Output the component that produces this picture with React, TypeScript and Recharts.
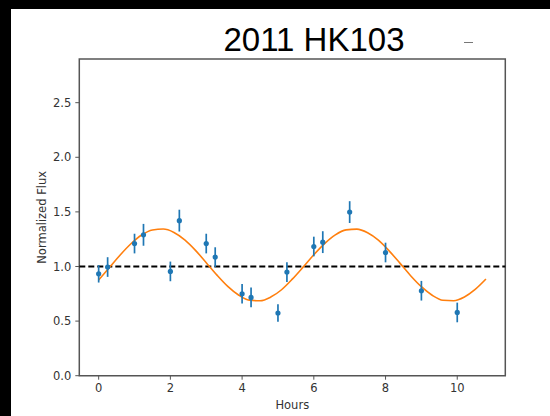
import {
  ComposedChart,
  XAxis,
  YAxis,
  Line,
  Scatter,
  ErrorBar,
  ReferenceLine,
  ReferenceArea,
} from "recharts";

// measured light curve
const hours = [0, 0.25, 1, 1.25, 2, 2.25, 3, 3.25, 4, 4.25, 5, 5.25, 6, 6.25, 7, 8, 9, 10];
const flux = [0.933, 0.995, 1.21, 1.29, 0.955, 1.42, 1.21, 1.086, 0.75, 0.717, 0.574, 0.949, 1.183, 1.223, 1.498, 1.128, 0.778, 0.579];
const fluxErr = [0.08, 0.09, 0.09, 0.1, 0.09, 0.1, 0.09, 0.09, 0.09, 0.09, 0.08, 0.09, 0.09, 0.1, 0.1, 0.09, 0.09, 0.09];

// fitted curve
const fitHours = [
  0, 0.3, 0.6, 0.9, 1.2, 1.5, 1.8, 2.1, 2.4, 2.7, 3, 3.3, 3.6, 3.9, 4.2, 4.5, 4.8, 5.1, 5.4,
  5.7, 6, 6.3, 6.6, 6.9, 7.2, 7.5, 7.8, 8.1, 8.4, 8.7, 9, 9.3, 9.6, 9.9, 10.2, 10.5, 10.8,
];
const fitFlux = [
  0.876, 0.99, 1.105, 1.208, 1.288, 1.334, 1.343, 1.312, 1.244, 1.148, 1.035, 0.921, 0.818,
  0.739, 0.692, 0.686, 0.72, 0.787, 0.884, 0.994, 1.108, 1.21, 1.29, 1.335, 1.342, 1.309,
  1.241, 1.143, 1.031, 0.916, 0.815, 0.737, 0.691, 0.687, 0.721, 0.79, 0.885,
];

const xTicks = [0, 2, 4, 6, 8, 10];
const yTicks = [0, 0.5, 1, 1.5, 2, 2.5];

const points = hours.map((h, i) => ({ x: h, y: flux[i], err: fluxErr[i] }));
const fit = fitHours.map((h, i) => ({ x: h, y: fitFlux[i] }));

const tickStyle = { fill: "#333", fontSize: 11.5, fontFamily: "DejaVu Sans" };

export default function App() {
  return (
    <div
      style={{
        position: "absolute",
        left: 0,
        top: 0,
        width: 550,
        height: 416,
        background: "#000",
      }}
    >
      <div
        style={{
          position: "absolute",
          left: 11,
          top: 9,
          width: 539,
          height: 407,
          background: "#fff",
        }}
      />
      <div
        style={{
          position: "absolute",
          left: 0,
          width: 628,
          top: 20,
          textAlign: "center",
          fontFamily: "Liberation Sans, Arial, sans-serif",
          fontSize: 33,
          lineHeight: "40px",
          color: "#000",
        }}
      >
        2011 HK103
      </div>
      <div
        style={{
          position: "absolute",
          left: 464,
          top: 42,
          width: 9,
          height: 1,
          background: "#777",
        }}
      />
      <div style={{ position: "absolute", left: 0, top: 0 }}>
        <ComposedChart
          width={550}
          height={416}
          margin={{ top: 59, right: 44.7, bottom: 2.3, left: 39.3 }}
        >
          <XAxis
            dataKey="x"
            type="number"
            domain={[-0.54, 11.34]}
            ticks={xTicks}
            allowDataOverflow
            height={38}
            axisLine={false}
            tickSize={4}
            tickMargin={4}
            tickLine={{ stroke: "#555" }}
            tick={tickStyle}
            label={{
              value: "Hours",
              position: "insideBottom",
              offset: 5,
              fill: "#333",
              fontSize: 11.5,
              fontFamily: "DejaVu Sans",
            }}
          />
          <YAxis
            type="number"
            domain={[0, 2.9]}
            ticks={yTicks}
            allowDataOverflow
            width={40}
            axisLine={false}
            tickSize={4}
            tickMargin={4}
            tickLine={{ stroke: "#555" }}
            tick={tickStyle}
            tickFormatter={(v: number) => v.toFixed(1)}
            label={{
              value: "Normalized Flux",
              angle: -90,
              position: "insideLeft",
              offset: 3,
              fill: "#333",
              fontSize: 11.5,
              fontFamily: "DejaVu Sans",
              style: { textAnchor: "middle" },
            }}
          />
          <ReferenceLine y={1} stroke="#000" strokeWidth={2} strokeDasharray="6 3" />
          <Line
            data={fit}
            dataKey="y"
            type="monotone"
            stroke="#ff7f0e"
            strokeWidth={1.6}
            dot={false}
            activeDot={false}
            isAnimationActive={false}
          />
          <Scatter
            data={points}
            dataKey="y"
            fill="#1f77b4"
            isAnimationActive={false}
            shape={(p: any) => <circle cx={p.cx} cy={p.cy} r={2.6} fill="#1f77b4" />}
          >
            <ErrorBar
              dataKey="err"
              direction="y"
              width={0}
              stroke="#1f77b4"
              strokeWidth={1.7}
              isAnimationActive={false}
            />
          </Scatter>
          <ReferenceArea
            x1={-0.54}
            x2={11.34}
            y1={0}
            y2={2.9}
            fill="none"
            stroke="#555"
            strokeWidth={1.5}
            ifOverflow="visible"
          />
        </ComposedChart>
      </div>
    </div>
  );
}
